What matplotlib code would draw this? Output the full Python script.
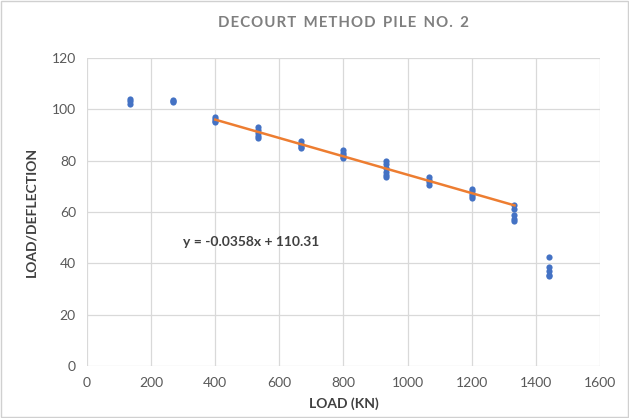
import matplotlib
matplotlib.use("Agg")
import matplotlib.pyplot as plt
from matplotlib.patches import Rectangle

plt.rcParams['font.family'] = ['Lato', 'DejaVu Sans']

# load steps (kN) and the load/deflection readings taken at each step
loads = [133.3, 266.7, 400, 533.3, 666.7, 800, 933.3, 1066.7, 1200, 1333.3, 1440]
ratios = [
    [104.2, 103.2, 102.2],
    [103.8, 103.2, 102.9],
    [97.0, 96.2, 95.5, 95.0],
    [93.3, 92.0, 90.8, 89.8, 89.0],
    [87.5, 86.6, 86.0, 85.5, 85.0],
    [84.0, 83.0, 82.2, 81.6, 81.2],
    [80.0, 78.6, 77.0, 75.6, 74.6, 73.8],
    [73.6, 72.6, 71.5, 70.5],
    [69.0, 68.1, 67.1, 66.2, 65.4],
    [62.6, 61.0, 59.0, 57.4, 56.4],
    [42.5, 38.5, 37.0, 35.6, 35.0],
]

# linear trend over the 400-1333 kN range
slope = -0.0358
intercept = 110.31
fit_range = [400, 1333.3]

title = "DECOURT METHOD PILE NO. 2"

xs = [x for x, ys in zip(loads, ratios) for _ in ys]
ys = [y for ys_ in ratios for y in ys_]

fig = plt.figure(figsize=(6.29, 4.18), dpi=100)
ax = fig.add_axes([0.1383, 0.1244, 0.8156, 0.7368])

ax.scatter(xs, ys, s=20, color="#4472C4", zorder=3, linewidths=0)
ax.plot(fit_range, [slope * x + intercept for x in fit_range],
        color="#ED7D31", lw=1.8, zorder=4)

ax.set_xlim(0, 1600)
ax.set_ylim(0, 120)
ax.set_xticks(range(0, 1601, 200))
ax.set_yticks(range(0, 121, 20))
ax.grid(True, color="#D9D9D9", lw=0.9)
ax.set_axisbelow(True)
for s in ax.spines.values():
    s.set_visible(False)
ax.tick_params(length=0, labelsize=10, colors="#595959", pad=8)

ax.set_xlabel("LOAD (KN)", fontsize=10, fontweight="bold", color="#404040", labelpad=6)
ax.set_ylabel("LOAD/DEFLECTION", fontsize=10, fontweight="bold", color="#404040", labelpad=10)

# letter-spaced title (hair spaces between characters)
spaced = "  ".join("\u200a".join(word) for word in title.split(" "))
ax.set_title(spaced, fontsize=10.8, fontweight="bold", color="#7F7F7F", pad=22)

ax.text(300, 48.5, f"y = {slope}x + {intercept}", fontsize=10, fontweight="bold",
        color="#404040", ha="left", va="center")

# thin chart border
fig.patches.append(Rectangle((0.002, 0.002), 0.996, 0.996, transform=fig.transFigure,
                             fill=False, edgecolor="#D0D0D0", lw=1))

fig.savefig("out.png", dpi=100)
